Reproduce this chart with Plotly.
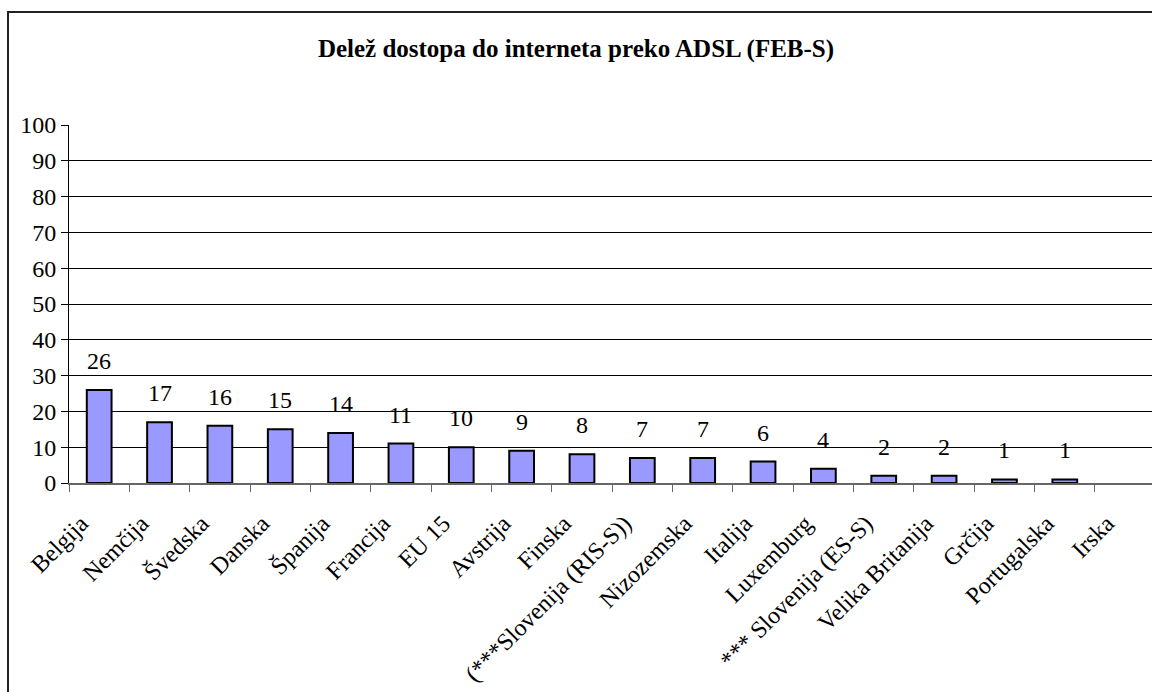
import plotly.graph_objects as go

categories = ["Belgija", "Nemčija", "Švedska", "Danska", "Španija", "Francija", "EU 15",
              "Avstrija", "Finska", "(***Slovenija (RIS-S))", "Nizozemska", "Italija",
              "Luxemburg", "*** Slovenija (ES-S)", "Velika Britanija", "Grčija",
              "Portugalska", "Irska"]
values = [26, 17, 16, 15, 14, 11, 10, 9, 8, 7, 7, 6, 4, 2, 2, 1, 1, None]
y_ticks = [0, 10, 20, 30, 40, 50, 60, 70, 80, 90, 100]
title_text = "Delež dostopa do interneta preko ADSL (FEB-S)"

FONT = "Liberation Serif, Times New Roman, serif"

fig = go.Figure()
fig.add_trace(go.Bar(
    x=categories, y=values, width=0.41,
    marker=dict(color="#9999FF", line=dict(color="black", width=2)),
    hoverinfo="x+y",
))

annotations = []
for c, v in zip(categories, values):
    if v is None:
        continue
    annotations.append(dict(x=c, y=v, xref="x", yref="y", text=str(v), showarrow=False,
                            yanchor="bottom", yshift=14,
                            font=dict(family=FONT, size=24, color="black")))

W, H = 1152, 692
L, T, B = 69, 125, 209
pw = W - L
ph = H - T - B

def px_to_paper_x(px):
    return (px - L) / pw

def px_to_paper_y(py):
    return (H - B - py) / ph

fig.update_layout(
    width=W, height=H,
    margin=dict(l=L, r=0, t=T, b=B),
    paper_bgcolor="white", plot_bgcolor="white",
    showlegend=False,
    title=dict(text="<b>" + title_text + "</b>", x=576 / W, xref="container", xanchor="center",
               y=1 - 48 / H, yref="container", yanchor="middle",
               font=dict(family=FONT, size=25, color="black")),
    font=dict(family=FONT, size=24, color="black"),
    annotations=annotations,
    shapes=[dict(type="rect", xref="paper", yref="paper",
                 x0=px_to_paper_x(8), x1=px_to_paper_x(1180),
                 y0=px_to_paper_y(720), y1=px_to_paper_y(12),
                 line=dict(color="#222", width=2), fillcolor="rgba(0,0,0,0)", layer="above")],
)
fig.update_xaxes(
    type="category", range=[-0.5, 17.445],
    tickangle=-45, tickson="boundaries", ticks="outside", ticklen=7, tickcolor="#666",
    tickfont=dict(family=FONT, size=24, color="black"),
    ticklabelshift=-18, ticklabelstandoff=15,
    showline=True, linecolor="#666", linewidth=2, showgrid=False,
)
fig.update_yaxes(
    range=[0, 100], tickvals=y_ticks, ticks="outside", ticklen=7, tickcolor="black",
    tickfont=dict(family=FONT, size=24, color="black"),
    showline=True, linecolor="black", linewidth=1,
    showgrid=True, gridcolor="black", gridwidth=1, zeroline=False,
)

fig.write_html("out.html", config={"displayModeBar": False},
               post_script="document.body.style.margin='0';document.body.style.overflow='hidden';")
